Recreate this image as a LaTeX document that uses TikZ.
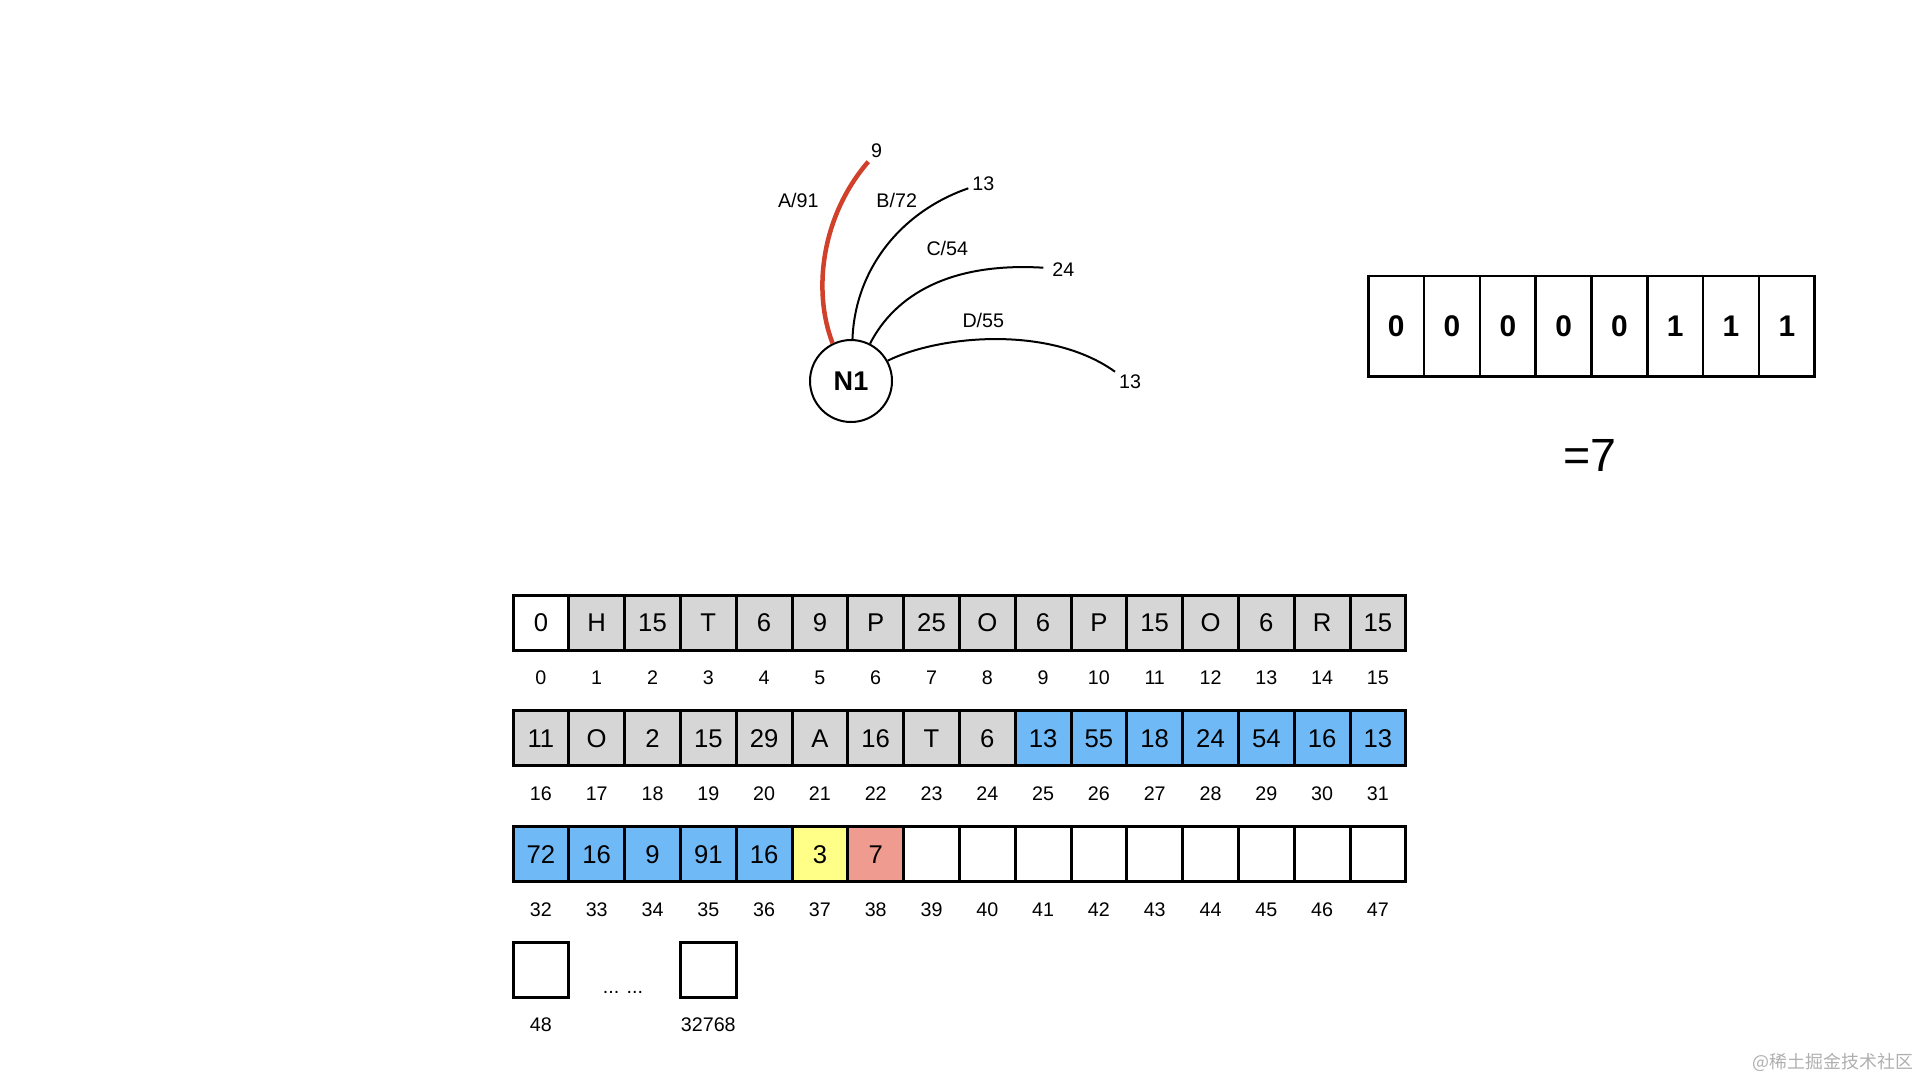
\documentclass[tikz,border=0pt]{standalone}
\usepackage{fontspec}
\setmainfont{Liberation Sans}
\newfontfamily\cjkfont{Noto Sans CJK SC}
\usetikzlibrary{positioning}
\definecolor{cellgrey}{RGB}{214,214,214}
\definecolor{skyblue}{RGB}{111,185,247}
\definecolor{lemon}{RGB}{255,255,136}
\definecolor{salmon}{RGB}{240,155,143}
\definecolor{pathred}{RGB}{208,64,43}
\definecolor{markgrey}{RGB}{175,175,175}

\tikzset{
  cell/.style={draw,line width=0.06cm,minimum width=1.116cm,minimum height=1.1cm,
    inner sep=0pt,font=\fontsize{14.6}{16}\selectfont},
  idx/.style={font=\fontsize{11.2}{12}\selectfont},
  bitcell/.style={draw,line width=0.05cm,minimum width=1.116cm,minimum height=2.01cm,
    inner sep=0pt,font=\fontsize{17}{20}\selectfont\bfseries},
  trie/.style={line width=0.04cm},
  hot/.style={line width=0.09cm,pathred},
}

\begin{document}
\begin{tikzpicture}[x=0.02cm,y=-0.02cm]
\useasboundingbox (0,0) rectangle (1920,1080);

% node N1 and its children
\node[circle,draw,line width=0.04cm,minimum size=1.64cm,
  font=\fontsize{15.4}{18}\selectfont\bfseries] (n1) at (851,381) {N1};
\coordinate (endA) at (868.3,161.7);
\coordinate (endB) at (968.3,188.3);
\coordinate (endC) at (1043.3,267.7);
\coordinate (endD) at (1115,371.7);
\draw[hot] (n1.116) .. controls (812,290) and (822,215) .. (endA);
\draw[trie] (n1.88) .. controls (855,270) and (900,212) .. (endB);
\draw[trie] (n1.63) .. controls (895,295) and (950,262) .. (endC);
\draw[trie] (n1.29) .. controls (940,335) and (1050,325) .. (endD);
\node[idx] (tA) at (876.7,150.7) {9};
\node[idx] (tB) at (983.3,184) {13};
\node[idx] (tC) at (1063.3,269.3) {24};
\node[idx] (tD) at (1130,381.7) {13};
\node[idx] (kA) at (798.3,200) {A/91};
\node[idx] (kB) at (896.7,200) {B/72};
\node[idx] (kC) at (947.3,248.3) {C/54};
\node[idx] (kD) at (983.3,320) {D/55};

% bitmap
\foreach \j/\b in {0/0,1/0,2/0,3/0,4/0,5/1,6/1,7/1} {
  \node[bitcell] (b\j) at ({1396.2+55.8*\j},326.3) {\b};
}
\node[font=\fontsize{26.5}{30}\selectfont] (res) at (1590,455) {=7};

% array
\foreach \i/\v/\c in {0/0/white,1/H/cellgrey,2/15/cellgrey,3/T/cellgrey,4/6/cellgrey,
  5/9/cellgrey,6/P/cellgrey,7/25/cellgrey,8/O/cellgrey,9/6/cellgrey,10/P/cellgrey,
  11/15/cellgrey,12/O/cellgrey,13/6/cellgrey,14/R/cellgrey,15/15/cellgrey,
  16/11/cellgrey,17/O/cellgrey,18/2/cellgrey,19/15/cellgrey,20/29/cellgrey,
  21/A/cellgrey,22/16/cellgrey,23/T/cellgrey,24/6/cellgrey,25/13/skyblue,
  26/55/skyblue,27/18/skyblue,28/24/skyblue,29/54/skyblue,30/16/skyblue,31/13/skyblue,
  32/72/skyblue,33/16/skyblue,34/9/skyblue,35/91/skyblue,36/16/skyblue,
  37/3/lemon,38/7/salmon,39/{}/white,40/{}/white,41/{}/white,42/{}/white,
  43/{}/white,44/{}/white,45/{}/white,46/{}/white,47/{}/white} {
  \pgfmathtruncatemacro\col{mod(\i,16)}
  \pgfmathtruncatemacro\row{int(\i/16)}
  \node[cell,fill=\c] (c\i) at ({540.9+55.8*\col},{622.5+115.9*\row}) {\v};
  \node[idx] (l\i) at ({540.9+55.8*\col},{678+115.9*\row}) {\i};
}
\node[cell] (c48) at (540.9,970) {};
\node[cell] (clast) at (708.3,970) {};
\node[idx] (l48) at (540.9,1025) {48};
\node[idx] (llast) at (708.3,1025) {32768};
\node[idx] (gap) at (623,992) {... ...};

\node[font=\cjkfont\fontsize{10.2}{11}\selectfont,text=markgrey] (mark) at (1833,1062) {@稀土掘金技术社区};
\end{tikzpicture}
\end{document}
